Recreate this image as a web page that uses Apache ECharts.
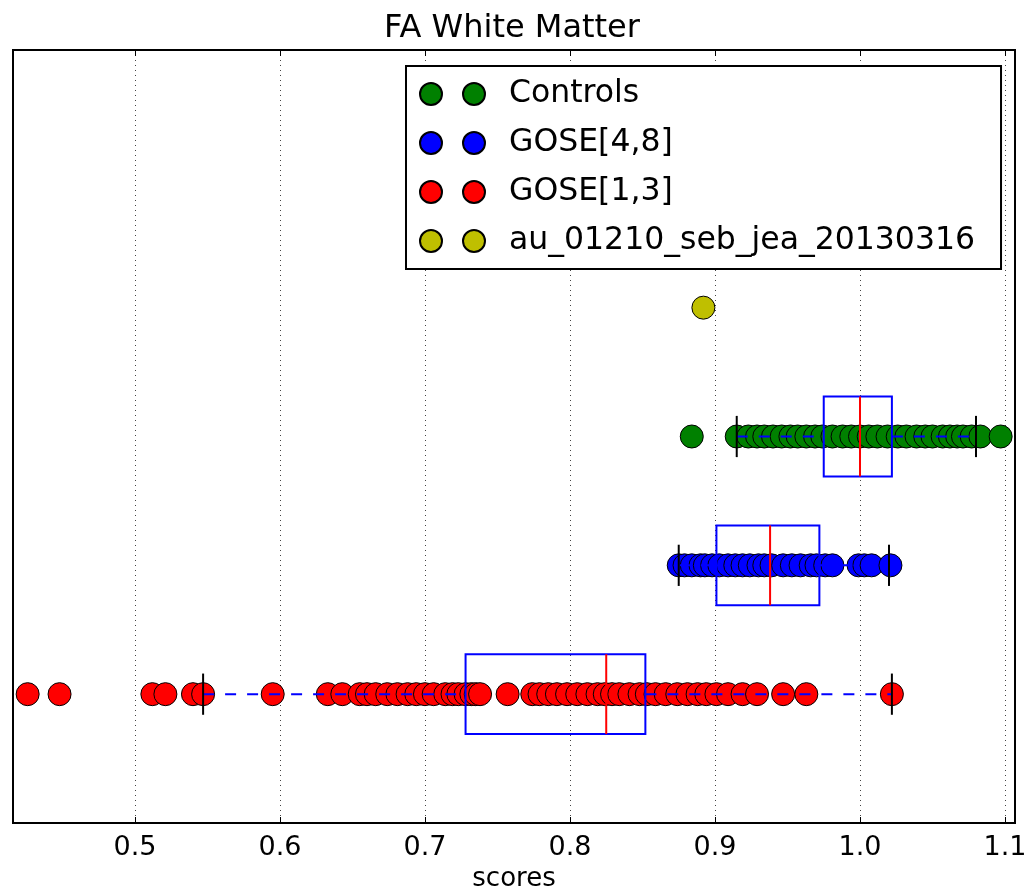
<!DOCTYPE html>
<html>
<head>
<meta charset="utf-8">
<script src="https://cdn.jsdelivr.net/npm/echarts@6/dist/echarts.min.js"></script>
<style>
  html, body { margin: 0; padding: 0; background: #fff; }
  #chart { width: 1024px; height: 887px; }
</style>
</head>
<body>
<div id="chart"></div>
<script>
// scores, one row per group
var controls = [0.884, 0.915, 0.923, 0.929, 0.934, 0.940, 0.946, 0.952, 0.957, 0.963, 0.969,
  0.974, 0.981, 0.988, 0.994, 1.000, 1.006, 1.012, 1.019, 1.026, 1.032, 1.039, 1.045, 1.050,
  1.057, 1.062, 1.067, 1.071, 1.077, 1.083, 1.097]
var goseHigh = [0.875, 0.879, 0.884, 0.890, 0.893, 0.898, 0.903, 0.909, 0.914, 0.919, 0.924,
  0.930, 0.934, 0.939, 0.947, 0.953, 0.959, 0.966, 0.970, 0.976, 0.981, 0.999, 1.003, 1.008, 1.021]
var goseLow = [0.426, 0.448, 0.512, 0.521, 0.540, 0.547, 0.595, 0.633, 0.643, 0.655, 0.660,
  0.666, 0.674, 0.681, 0.688, 0.694, 0.700, 0.706, 0.714, 0.719, 0.723, 0.728, 0.732, 0.735,
  0.738, 0.757, 0.774, 0.779, 0.785, 0.791, 0.798, 0.805, 0.812, 0.819, 0.824, 0.829, 0.834,
  0.841, 0.848, 0.853, 0.859, 0.866, 0.874, 0.881, 0.888, 0.894, 0.901, 0.909, 0.919, 0.929,
  0.947, 0.963, 1.022]
var subject = [0.892]

// row of each group on the y axis
var groupNames = ['Controls', 'GOSE[4,8]', 'GOSE[1,3]', 'au_01210_seb_jea_20130316']
var groupRows = [3, 2, 1, 4]
var groupColors = ['#008000', '#0000ff', '#ff0000', '#bfbf00']

// box stats: [row, whisker low, q1, median, q3, whisker high]
var boxStats = [
  [1, 0.547, 0.728, 0.825, 0.852, 1.022],
  [2, 0.875, 0.901, 0.938, 0.972, 1.020],
  [3, 0.915, 0.975, 1.000, 1.022, 1.080]
]

var xTicks = [0.5, 0.6, 0.7, 0.8, 0.9, 1.0, 1.1]

var font = 'DejaVu Sans'
var chart = echarts.init(document.getElementById('chart'))

function rowData(values, row) {
  return values.map(function(v) { return [v, row] })
}

var groupValues = [controls, goseHigh, goseLow, subject]
var scatterSeries = groupNames.map(function(name, i) {
  return {
    name: name,
    type: 'scatter',
    symbol: 'circle',
    symbolSize: 23,
    itemStyle: {
      color: groupColors[i],
      borderColor: '#000',
      borderWidth: 1,
      opacity: 1
    },
    data: rowData(groupValues[i], groupRows[i]),
    z: 2
  }
})

function renderBox(params, api) {
  var row = api.value(0)
  var lo = api.coord([api.value(1), row])
  var q1 = api.coord([api.value(2), row])
  var med = api.coord([api.value(3), row])
  var q3 = api.coord([api.value(4), row])
  var hi = api.coord([api.value(5), row])
  var half = api.size([0, 0.31])[1]
  var capHalf = api.size([0, 0.16])[1]
  var y = q1[1]
  var dash = { stroke: '#0000ff', lineWidth: 2, lineDash: [11, 11], fill: null }
  var solid = function(c) { return { stroke: c, lineWidth: 2, fill: null } }
  return {
    type: 'group',
    children: [
      { type: 'line', shape: { x1: lo[0], y1: y, x2: q1[0], y2: y }, style: dash },
      { type: 'line', shape: { x1: q3[0], y1: y, x2: hi[0], y2: y }, style: dash },
      { type: 'line', shape: { x1: lo[0], y1: y - capHalf, x2: lo[0], y2: y + capHalf }, style: solid('#000') },
      { type: 'line', shape: { x1: hi[0], y1: y - capHalf, x2: hi[0], y2: y + capHalf }, style: solid('#000') },
      { type: 'rect', shape: { x: q1[0], y: y - half, width: q3[0] - q1[0], height: half * 2 }, style: solid('#0000ff') },
      { type: 'line', shape: { x1: med[0], y1: y - half, x2: med[0], y2: y + half }, style: solid('#ff0000') }
    ]
  }
}

var legendIcon = 'path://M0,11a11,11 0 1,0 22,0a11,11 0 1,0 -22,0M43,11a11,11 0 1,0 22,0a11,11 0 1,0 -22,0M84,11L84,11'

chart.setOption({
  animation: false,
  backgroundColor: '#fff',
  title: {
    text: 'FA White Matter',
    left: 'center',
    top: 8,
    textStyle: { fontFamily: font, fontSize: 32, fontWeight: 'normal', color: '#000' }
  },
  legend: {
    data: groupNames,
    orient: 'vertical',
    left: 406,
    top: 66,
    padding: [12, 26, 12, 13],
    itemGap: 17,
    itemWidth: 84,
    itemHeight: 22,
    icon: legendIcon,
    borderColor: '#000',
    borderWidth: 2,
    backgroundColor: '#fff',
    selectedMode: false,
    textStyle: { fontFamily: font, fontSize: 31.5, color: '#000', lineHeight: 32 }
  },
  grid: {
    left: 13,
    right: 9,
    top: 50,
    bottom: 64,
    outerBoundsMode: 'none',
    containLabel: false,
    show: true,
    borderColor: '#000',
    borderWidth: 2,
    backgroundColor: '#fff'
  },
  xAxis: [{
    type: 'value',
    min: 0.4159,
    max: 1.1069,
    name: 'scores',
    nameLocation: 'middle',
    nameGap: 38,
    nameTextStyle: { fontFamily: font, fontSize: 26, color: '#000' },
    axisLine: { show: true, lineStyle: { color: '#000', width: 2 } },
    axisTick: { show: true, inside: true, length: 6, customValues: xTicks, lineStyle: { color: '#000' } },
    axisLabel: {
      customValues: xTicks,
      margin: 11,
      fontFamily: font,
      fontSize: 27,
      color: '#000',
      formatter: function(v) { return v.toFixed(1) }
    },
    splitLine: { show: true, lineStyle: { color: '#444', width: 1, type: [1, 4] } }
  }, {
    type: 'value',
    position: 'top',
    min: 0.4159,
    max: 1.1069,
    axisLine: { show: false },
    axisTick: { show: true, inside: true, length: 6, customValues: xTicks, lineStyle: { color: '#000' } },
    axisLabel: { show: false, customValues: xTicks },
    splitLine: { show: false }
  }],
  yAxis: {
    type: 'value',
    min: 0,
    max: 6,
    show: true,
    axisLine: { show: false },
    axisTick: { show: false },
    axisLabel: { show: false },
    splitLine: { show: false }
  },
  series: scatterSeries.concat([{
    name: 'boxes',
    type: 'custom',
    renderItem: renderBox,
    data: boxStats,
    encode: { x: [1, 2, 3, 4, 5], y: 0 },
    z: 5,
    silent: true
  }])
})
</script>
</body>
</html>
